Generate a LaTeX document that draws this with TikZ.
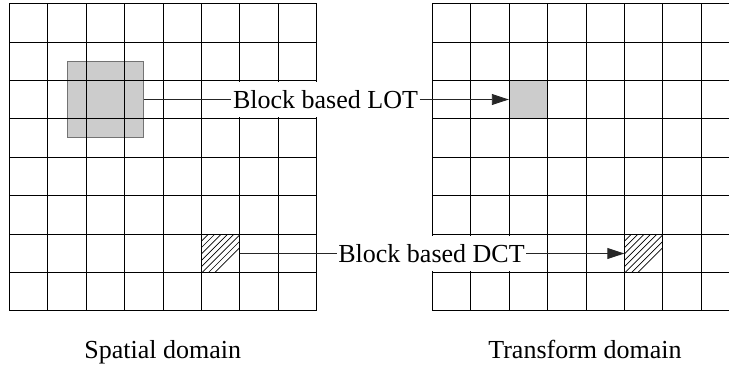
\documentclass[tikz,border=0pt]{standalone}
\usepackage{fontspec}
\setmainfont{Liberation Serif}
\usetikzlibrary{arrows.meta}
\begin{document}
\begin{tikzpicture}[x=1pt,y=-1pt,
  gridline/.style={line width=1.4pt, black},
  bigblock/.style={draw=black!55, fill=black!20, line width=0.9pt, minimum width=76.8pt, minimum height=76.8pt, inner sep=0pt, outer sep=0pt},
  graycell/.style={fill=black!20, minimum width=38.4pt, minimum height=38.4pt, inner sep=0pt, outer sep=0pt},
  hatchcell/.style={minimum width=38.4pt, minimum height=38.4pt, inner sep=0pt, outer sep=0pt},
  hatchline/.style={line width=0.7pt, black},
  caption/.style={font=\fontsize{26}{30}\selectfont, inner sep=1pt},
  lbl/.style={caption, fill=white, inner xsep=1.5pt, inner ysep=8pt},
  conn/.style={line width=0.9pt, black!85},
  arr/.style={conn, -{Triangle[length=17pt,width=11pt]}}
]
\useasboundingbox (0,0) rectangle (729,367);
\clip (0,0) rectangle (729,367);
\def\cs{38.38}
% filled blocks
\node[bigblock] (lotsrc) at (105.5,99.5) {};
\node[graycell] (lottgt) at (528,99.5) {};
\node[hatchcell] (dctsrc) at (220.5,253.5) {};
\node[hatchcell] (dcttgt) at (643.5,253.5) {};
% hatching
\foreach \c in {dctsrc,dcttgt}{
  \begin{scope}
    \clip (\c.north west) rectangle (\c.south east);
    \foreach \k in {-6,...,6}{
      \draw[hatchline] ([xshift={\k*6.4pt-25pt}]\c.south west) -- ++(50,-50);
    }
  \end{scope}
}
% left grid
\foreach \i in {0,...,8}{
  \draw[gridline] ({round(9+\i*\cs)+0.5},3.5) -- ({round(9+\i*\cs)+0.5},310.5);
  \draw[gridline] (9,{round(3.3+\i*\cs)+0.5}) -- (317,{round(3.3+\i*\cs)+0.5});
}
% right grid (cut at the right edge)
\foreach \i in {0,...,8}{
  \draw[gridline] ({round(432+\i*\cs)+0.5},3.5) -- ({round(432+\i*\cs)+0.5},310.5);
  \draw[gridline] (432,{round(3.3+\i*\cs)+0.5}) -- (745,{round(3.3+\i*\cs)+0.5});
}
% labels and connectors
\node[lbl] (lot) at (325.5,99.5) {Block based LOT};
\node[lbl] (dct) at (431.5,253.5) {Block based DCT};
\draw[conn] (lotsrc.east) -- (lot.west);
\draw[arr] (lot.east) -- (lottgt.west);
\draw[conn] (dctsrc.east) -- (dct.west);
\draw[arr] (dct.east) -- (dcttgt.west);
\node[caption, anchor=base] (spatial) at (162.7,358) {Spatial domain};
\node[caption, anchor=base] (transform) at (585,358) {Transform domain};
\end{tikzpicture}
\end{document}
